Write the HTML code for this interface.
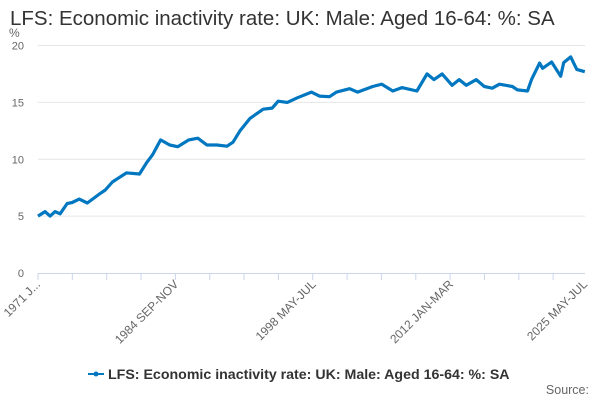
<!DOCTYPE html>
<html><head><meta charset="utf-8"><style>
body{margin:0;background:#fff;font-family:"Liberation Sans",sans-serif}
svg text{font-family:"Liberation Sans",sans-serif}
</style></head><body>
<svg id="c" width="600" height="400">
<text x="10" y="25" font-size="20.5" fill="#333">LFS: Economic inactivity rate: UK: Male: Aged 16-64: %: SA</text>
<text x="9" y="37" font-size="12" fill="#666">%</text>
<g id="grid"></g><g id="xax"></g>
<path id="line" fill="none" stroke="#0077c0" stroke-width="3.2" stroke-linejoin="round"/>
<g>
<line x1="88" y1="374" x2="104" y2="374" stroke="#0077c0" stroke-width="2"/>
<circle cx="96" cy="374" r="2.5" fill="#0077c0"/>
<text x="108" y="379" font-size="14.2" font-weight="bold" fill="#333">LFS: Economic inactivity rate: UK: Male: Aged 16-64: %: SA</text>
</g>
<text x="589" y="394" font-size="12.5" fill="#666" text-anchor="end">Source:</text>
</svg>
<script>
const years=[1971.0,1971.7,1972.2,1972.7,1973.2,1973.9,1974.4,1975.1,1975.9,1977.2,1977.7,1978.4,1979.1,1979.8,1981.1,1981.8,1982.4,1983.2,1984.1,1984.9,1986.0,1986.9,1987.8,1988.8,1989.8,1990.4,1991.1,1992.1,1993.4,1994.3,1994.9,1995.8,1996.8,1998.2,1999.0,2000.0,2000.7,2002.0,2002.8,2004.3,2005.2,2006.3,2007.2,2008.7,2009.7,2010.4,2011.2,2012.2,2012.9,2013.6,2014.6,2015.4,2016.2,2016.9,2018.2,2018.7,2019.7,2020.1,2020.9,2021.2,2022.1,2023.0,2023.3,2024.0,2024.6,2025.4];
const values=[5.0,5.4,5.0,5.4,5.2,6.1,6.2,6.5,6.15,7.0,7.3,8.0,8.4,8.8,8.7,9.7,10.4,11.7,11.25,11.1,11.7,11.85,11.25,11.25,11.15,11.5,12.5,13.6,14.4,14.5,15.1,15.0,15.4,15.9,15.55,15.5,15.9,16.2,15.9,16.4,16.6,16.0,16.3,16.0,17.5,17.0,17.5,16.5,17.0,16.5,17.0,16.4,16.25,16.6,16.4,16.1,16.0,17.0,18.45,18.0,18.55,17.3,18.5,19.0,17.9,17.7];
const yTicks=[0,5,10,15,20];
const xLabels=[["1971 J...",1971.0],["1984 SEP-NOV",1984.75],["1998 MAY-JUL",1998.42],["2012 JAN-MAR",2012.08],["2025 MAY-JUL",2025.42]];
const X0=38,X1=585,Y0=273,Y20=45.5,T0=1971.0,T1=2025.42;
const xs=t=>X0+(t-T0)/(T1-T0)*(X1-X0);
const ys=v=>Y0+(Y20-Y0)*v/20;
const NS="http://www.w3.org/2000/svg";
const g=document.getElementById('grid'),xa=document.getElementById('xax');
yTicks.forEach(v=>{
 const l=document.createElementNS(NS,'line');
 
 
 l.setAttribute('x1',X0);l.setAttribute('x2',X1);l.setAttribute('y1',ys(v));l.setAttribute('y2',ys(v));
 l.setAttribute('stroke',v===0?'#fff':'#e6e6e6');g.appendChild(l);
 const t=document.createElementNS(NS,'text');
 
 
 t.setAttribute('x',24);t.setAttribute('y',ys(v)+4);t.setAttribute('text-anchor','end');
 t.setAttribute('font-size','11');t.setAttribute('fill','#666');t.textContent=v;g.appendChild(t);
});
const ax=document.createElementNS(NS,'line');


ax.setAttribute('x1',X0);ax.setAttribute('x2',X1);ax.setAttribute('y1',Y0+0.5);ax.setAttribute('y2',Y0+0.5);ax.setAttribute('stroke','#ccd6eb');xa.appendChild(ax);
for(let t=T0;t<=T1+0.01;t+=41/12){
 const k=document.createElementNS(NS,'line');
 
 
 k.setAttribute('x1',xs(t));k.setAttribute('x2',xs(t));k.setAttribute('y1',Y0);k.setAttribute('y2',Y0+7);k.setAttribute('stroke','#ccd6eb');xa.appendChild(k);
}
xLabels.forEach(([s,t])=>{
 const e=document.createElementNS(NS,'text');
 
 
 const x=xs(t)+3,y=Y0+12;
 e.setAttribute('x',x);e.setAttribute('y',y);e.setAttribute('text-anchor','end');
 e.setAttribute('transform',`rotate(-45 ${x} ${y})`);
 e.setAttribute('font-size','12');e.setAttribute('fill','#666');e.textContent=s;xa.appendChild(e);
});
document.getElementById('line').setAttribute('d',years.map((t,i)=>(i?'L':'M')+xs(t).toFixed(1)+' '+ys(values[i]).toFixed(1)).join(''));
</script>
</body></html>
